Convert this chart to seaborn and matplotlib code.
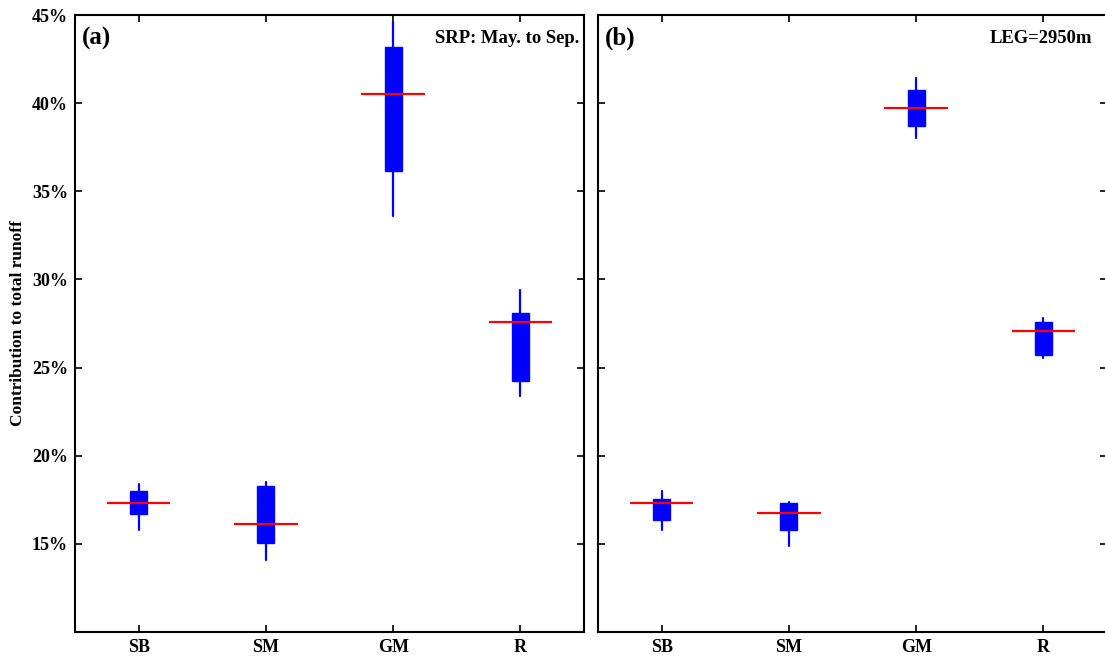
import matplotlib
matplotlib.use("Agg")
import matplotlib.pyplot as plt
from matplotlib.ticker import FuncFormatter
import seaborn as sns

categories = ["SB", "SM", "GM", "R"]

# panel (a): SRP May. to Sep.  (values in %)
a_whislo = [15.8, 14.1, 33.6, 23.4]
a_q1 = [16.7, 15.05, 36.15, 24.25]
a_med = [17.3, 16.1, 40.5, 27.6]
a_q3 = [18.0, 18.3, 43.2, 28.1]
a_whishi = [18.4, 18.5, 44.6, 29.4]

# panel (b): LEG=2950m
b_whislo = [15.8, 14.85, 38.0, 25.55]
b_q1 = [16.35, 15.8, 38.7, 25.7]
b_med = [17.3, 16.75, 39.75, 27.1]
b_q3 = [17.55, 17.3, 40.75, 27.6]
b_whishi = [18.0, 17.4, 41.4, 27.8]

yticks = [15, 20, 25, 30, 35, 40, 45]

sns.set_style("ticks")
plt.rcParams["font.family"] = ["Liberation Serif", "DejaVu Serif"]
plt.rcParams["font.weight"] = "bold"
plt.rcParams["text.color"] = "black"
plt.rcParams["axes.labelcolor"] = "black"
plt.rcParams["xtick.color"] = "black"
plt.rcParams["ytick.color"] = "black"


def draw_panel(ax, lo, q1, med, q3, hi, label, note, note_x, show_ylabels):
    stats = []
    for i, name in enumerate(categories):
        stats.append({"label": name, "whislo": lo[i], "q1": q1[i], "med": med[i],
                      "q3": q3[i], "whishi": hi[i]})
    pos = list(range(1, len(categories) + 1))
    ax.bxp(stats, positions=pos, widths=0.135, patch_artist=True, showcaps=False,
           showfliers=False,
           boxprops=dict(facecolor="#0000ff", edgecolor="#0000ff", linewidth=1),
           whiskerprops=dict(color="#0000ff", linewidth=1.6),
           medianprops=dict(linewidth=0))
    ax.hlines(med, [p - 0.25 for p in pos], [p + 0.25 for p in pos],
              colors="#ff0000", linewidth=1.6, zorder=4)
    ax.set_xlim(0.5, 4.5)
    ax.set_ylim(10, 45)
    ax.set_xticks(pos)
    ax.set_xticklabels(categories, fontsize=13, fontweight="bold")
    ax.set_yticks(yticks)
    ax.yaxis.set_major_formatter(FuncFormatter(lambda v, p: f"{v:.0f}%"))
    ax.tick_params(direction="in", length=5, width=1.2, top=True, right=True,
                   labelsize=13, pad=5, colors="black")
    if not show_ylabels:
        ax.tick_params(labelleft=False)
    for s in ax.spines.values():
        s.set_linewidth(1.5)
        s.set_color("black")
    ax.text(0.014, 0.981, label, transform=ax.transAxes, fontsize=18,
            fontweight="bold", va="top", ha="left", color="black")
    ax.text(note_x, 0.975, note, transform=ax.transAxes, fontsize=13.4,
            fontweight="bold", va="top", ha="right", color="black")


fig = plt.figure(figsize=(11.05, 6.61), dpi=100)
ax1 = fig.add_axes([0.0679, 0.0439, 0.4606, 0.9334])
ax2 = fig.add_axes([0.5412, 0.0439, 0.4606, 0.9334])

draw_panel(ax1, a_whislo, a_q1, a_med, a_q3, a_whishi, "(a)", "SRP: May. to Sep.", 0.99, True)
draw_panel(ax2, b_whislo, b_q1, b_med, b_q3, b_whishi, "(b)", "LEG=2950m", 0.97, False)
ax1.set_ylabel("Contribution to total runoff", fontsize=12.5, fontweight="bold",
               color="black")
ax1.yaxis.set_label_coords(-0.096, 0.5)

fig.savefig("out.png", dpi=100)
